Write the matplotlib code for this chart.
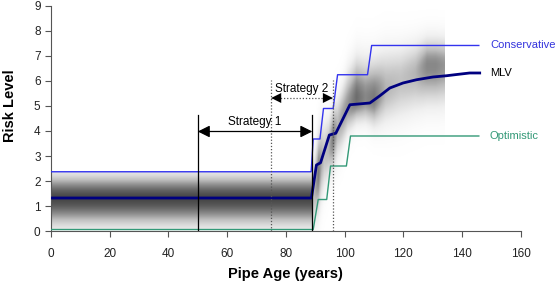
import numpy as np
import matplotlib
matplotlib.use("Agg")
import matplotlib.pyplot as plt

plt.rcParams["font.family"] = ["Liberation Sans", "DejaVu Sans"]

# step curves (pipe age in years, risk level)
cons_x = [0, 88.6, 89.3, 91.6, 92.8, 96.1, 97.6, 107.8, 109.2, 145.7]
cons_y = [2.37, 2.37, 3.68, 3.68, 4.9, 4.9, 6.25, 6.25, 7.42, 7.42]

mlv_x = [0, 88.7, 90.4, 91.8, 94.8, 97.0, 101.8, 108.6, 112.0, 115.4, 119.9,
         124.5, 130.1, 134.7, 137.5, 142.6, 146.0]
mlv_y = [1.32, 1.32, 2.64, 2.73, 3.84, 3.91, 5.05, 5.12, 5.41, 5.72, 5.92,
         6.05, 6.16, 6.21, 6.25, 6.32, 6.32]

opt_x = [0, 89.3, 91.0, 93.9, 95.2, 100.6, 102.0, 145.7]
opt_y = [0.06, 0.06, 1.26, 1.26, 2.6, 2.6, 3.8, 3.8]

# grey density band: column centre, spread above/below and darkness
shade_x = [0, 88.9, 89.2, 90.0, 91.0, 92.0, 93.0, 94.5, 96.0, 97.5, 99.0,
           101.0, 104.0, 107.0, 110.0, 114.0, 119.0, 124.0, 128.0, 131.0, 134.0]
shade_mid = [1.3, 1.3, 1.5, 1.8, 2.3, 2.8, 3.0, 3.3, 3.7, 4.1, 4.5,
             5.0, 5.3, 5.3, 5.3, 5.7, 6.0, 6.3, 6.6, 6.6, 6.6]
shade_sdu = [0.6, 0.6, 0.9, 0.9, 1.0, 1.0, 0.9, 0.8, 0.8, 0.8, 0.8,
             0.9, 1.0, 1.0, 1.0, 1.0, 0.9, 0.8, 0.7, 0.7, 0.7]
shade_sdd = [0.7, 0.7, 0.9, 0.9, 1.0, 1.0, 0.9, 0.8, 0.8, 0.8, 0.8,
             0.7, 0.6, 0.6, 0.7, 0.9, 1.0, 1.0, 1.0, 1.0, 1.0]
shade_peak = [0.78, 0.78, 0.35, 0.45, 0.6, 0.45, 0.35, 0.4, 0.6, 0.4, 0.45,
              0.5, 0.65, 0.55, 0.6, 0.4, 0.35, 0.4, 0.55, 0.55, 0.5]

# strategy markers
strat1 = (50, 89)
strat2 = (75, 96)
strat1_y = 3.98
strat2_y = 5.32

fig = plt.figure(figsize=(5.56, 2.9), dpi=100)
ax = fig.add_axes([0.0917, 0.2034, 0.845, 0.776])

# build the shaded density image
xs = np.linspace(0, shade_x[-1], 537)
ys = np.linspace(0, 9, 451)
mid = np.interp(xs, shade_x, shade_mid)
sdu = np.interp(xs, shade_x, shade_sdu)
sdd = np.interp(xs, shade_x, shade_sdd)
peak = np.interp(xs, shade_x, shade_peak)
d = ys[:, None] - mid[None, :]
sd = np.where(d > 0, sdu[None, :], sdd[None, :])
dark = peak[None, :] * np.exp(-0.5 * (d / sd) ** 2)
flat = xs[None, :] < shade_x[1]
dark[flat & (ys[:, None] > cons_y[0])] = 0
dark[flat & (ys[:, None] < opt_y[0])] = 0
ax.imshow(dark, extent=[0, shade_x[-1], 0, 9], origin="lower", cmap="Greys",
          vmin=0, vmax=1, aspect="auto", interpolation="bilinear", zorder=0)

ax.plot(cons_x, cons_y, color="#3333ee", lw=1.0, zorder=3)
ax.plot(opt_x, opt_y, color="#339977", lw=1.0, zorder=3)
ax.plot(mlv_x, mlv_y, color="#000080", lw=2.0, zorder=4)

ax.text(149.5, cons_y[-1], "Conservative", color="#3333dd", fontsize=8,
        va="center", clip_on=False)
ax.text(149.5, mlv_y[-1], "MLV", color="black", fontsize=8, va="center",
        clip_on=False)
ax.text(149.5, opt_y[-1], "Optimistic", color="#339977", fontsize=8,
        va="center", clip_on=False)

# strategy boundaries
for xv in strat1:
    ax.plot([xv, xv], [0, 4.62], color="black", lw=0.9, zorder=5)
for xv in strat2:
    ax.plot([xv, xv], [0, 6.02], color="#555555", lw=0.9, ls=(0, (1, 1.5)),
            zorder=5)

ax.annotate("", xy=(strat1[0], strat1_y), xytext=(strat1[1], strat1_y),
            arrowprops=dict(arrowstyle="<|-|>", color="black", lw=0.9,
                            mutation_scale=18, shrinkA=0, shrinkB=0), zorder=6)
ax.plot(list(strat2), [strat2_y, strat2_y], color="#555555", lw=0.9,
        ls=(0, (1, 1.5)), zorder=5)
ax.annotate("", xy=(strat2[0], strat2_y), xytext=(strat2[1], strat2_y),
            arrowprops=dict(arrowstyle="<|-|>", color="black", lw=0,
                            mutation_scale=18, shrinkA=0, shrinkB=0), zorder=6)
ax.text(sum(strat1) / 2, strat1_y + 0.12, "Strategy 1", fontsize=8.5,
        ha="center", va="bottom", zorder=6)
ax.text(sum(strat2) / 2, strat2_y + 0.12, "Strategy 2", fontsize=8.5,
        ha="center", va="bottom", zorder=6)

ax.set_xlim(0, 160)
ax.set_ylim(0, 9)
ax.set_xticks(range(0, 161, 20))
ax.set_yticks(range(0, 10))
for side in ["top", "right"]:
    ax.spines[side].set_visible(False)
for side in ["left", "bottom"]:
    ax.spines[side].set_color("#555555")
    ax.spines[side].set_linewidth(0.8)
ax.tick_params(direction="out", length=4, width=0.8, color="#555555",
               labelsize=8.5, labelcolor="#222222")
ax.tick_params(axis="x", pad=8)
ax.set_xlabel("Pipe Age (years)", fontsize=10.5, fontweight="bold", labelpad=5)
ax.set_ylabel("Risk Level", fontsize=10.5, fontweight="bold")
ax.yaxis.set_label_coords(-0.072, 0.555)

fig.savefig("out.png", dpi=100)
